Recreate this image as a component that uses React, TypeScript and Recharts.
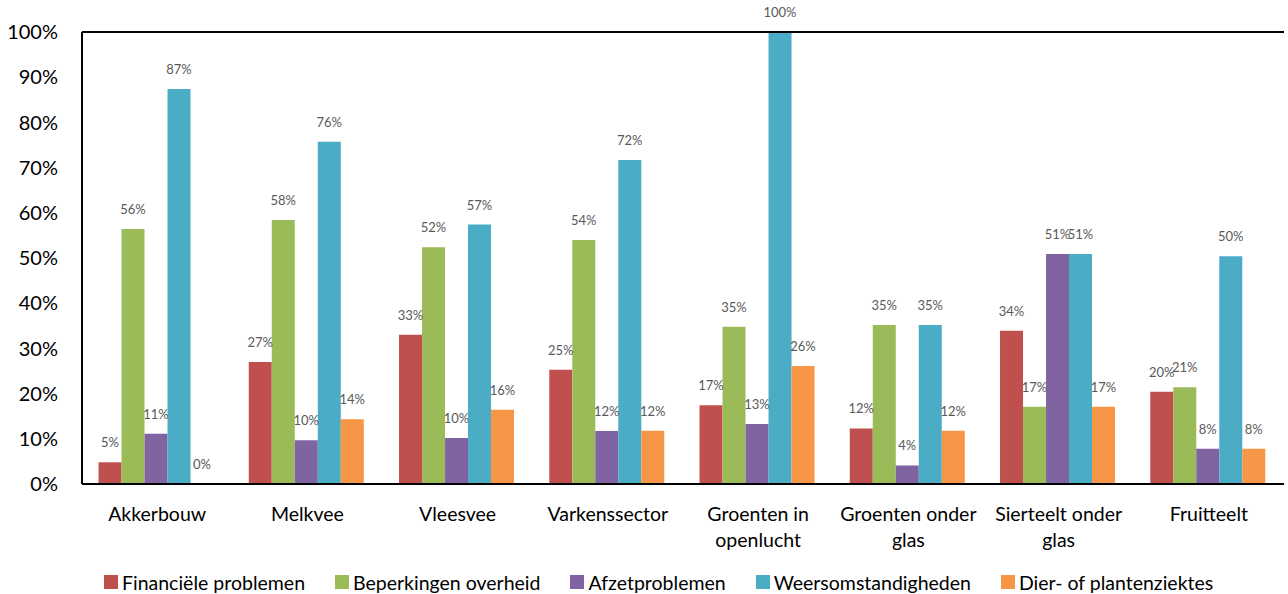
import React from "react";
import { BarChart, Bar, XAxis, YAxis, Legend, LabelList, ReferenceLine } from "recharts";

const categories = [
  "Akkerbouw",
  "Melkvee",
  "Vleesvee",
  "Varkenssector",
  "Groenten in openlucht",
  "Groenten onder glas",
  "Sierteelt onder glas",
  "Fruitteelt",
];

const financieel = [4.8, 27.0, 33.0, 25.3, 17.4, 12.3, 33.9, 20.4];
const beperkingen = [56.4, 58.4, 52.4, 54.0, 34.8, 35.2, 17.1, 21.4];
const afzet = [11.1, 9.7, 10.2, 11.7, 13.3, 4.1, 50.9, 7.8];
const weer = [87.4, 75.7, 57.4, 71.7, 100, 35.2, 50.9, 50.4];
const ziektes = [0, 14.3, 16.4, 11.8, 26.1, 11.8, 17.1, 7.8];

const yTicks = [0, 10, 20, 30, 40, 50, 60, 70, 80, 90, 100];

const series = [
  { key: "fin", name: "Financiële problemen", color: "#C0504D", values: financieel },
  { key: "bep", name: "Beperkingen overheid", color: "#9BBB59", values: beperkingen },
  { key: "afz", name: "Afzetproblemen", color: "#8064A2", values: afzet },
  { key: "weer", name: "Weersomstandigheden", color: "#4BACC6", values: weer },
  { key: "ziek", name: "Dier- of plantenziektes", color: "#F79646", values: ziektes },
];

const data = categories.map((name, i) => {
  const row: any = { name };
  series.forEach((s) => {
    row[s.key] = s.values[i];
  });
  return row;
});

const FONT = "Lato, 'Open Sans', sans-serif";

function splitLabel(t: string): string[] {
  if (t.length > 14) {
    const idx = t.lastIndexOf(" ");
    return [t.slice(0, idx), t.slice(idx + 1)];
  }
  return [t];
}

const CategoryTick = (props: any) => {
  const { x, y, payload } = props;
  const lines = splitLabel(String(payload.value));
  return (
    <text x={x} y={y} textAnchor="middle" fill="#000" fontSize={19.5} fontFamily={FONT}>
      {lines.map((l, i) => (
        <tspan key={i} x={x} y={y + 29 + i * 26}>
          {l}
        </tspan>
      ))}
    </text>
  );
};

const LegendContent = (props: any) => {
  const payload = [...(props.payload || [])].sort(
    (a: any, b: any) =>
      series.findIndex((s) => s.name === a.value) - series.findIndex((s) => s.name === b.value)
  );
  return (
    <div
      style={{
        display: "flex",
        alignItems: "center",
        height: 24,
        paddingLeft: 96,
        fontFamily: FONT,
        fontSize: 19.5,
        color: "#000",
        whiteSpace: "nowrap",
      }}
    >
      {payload.map((p: any, i: number) => (
        <div key={i} style={{ display: "flex", alignItems: "center", marginRight: 30 }}>
          <div style={{ width: 14, height: 14, background: p.color, marginRight: 4 }} />
          <span>{p.value}</span>
        </div>
      ))}
    </div>
  );
};

export default function App() {
  return (
    <div style={{ position: "absolute", left: 0, top: 0, background: "#fff" }}>
      <BarChart
        width={1288}
        height={594}
        data={data}
        margin={{ top: 32, right: 4, left: 8, bottom: 0 }}
        barCategoryGap="11%"
        barGap={0}
      >
        <XAxis
          dataKey="name"
          interval={0}
          tickLine={false}
          axisLine={{ stroke: "#000", strokeWidth: 2 }}
          tick={<CategoryTick />}
          height={86}
        />
        <YAxis
          domain={[0, 100]}
          ticks={yTicks}
          tickFormatter={(v: number) => `${v}%`}
          tickLine={false}
          tickMargin={18}
          axisLine={{ stroke: "#000", strokeWidth: 2 }}
          tick={{ fill: "#000", fontSize: 20, fontFamily: FONT }}
          width={74}
          allowDataOverflow
        />
        <YAxis
          yAxisId="right"
          orientation="right"
          width={0}
          tick={false}
          tickLine={false}
          axisLine={{ stroke: "#000", strokeWidth: 2 }}
        />
        <Legend verticalAlign="bottom" content={<LegendContent />} itemSorter={null as any} />
        {series.map((s) => (
          <Bar
            key={s.key}
            dataKey={s.key}
            name={s.name}
            fill={s.color}
            isAnimationActive={false}
            minPointSize={0.01}
          >
            <LabelList
              dataKey={s.key}
              position="top"
              offset={15}
              formatter={(v: any) => `${Math.round(Number(v))}%`}
              style={{ fill: "#595959", fontSize: 13, fontFamily: FONT }}
            />
          </Bar>
        ))}
        <ReferenceLine y={100} stroke="#000" strokeWidth={2} ifOverflow="visible" />
      </BarChart>
    </div>
  );
}
